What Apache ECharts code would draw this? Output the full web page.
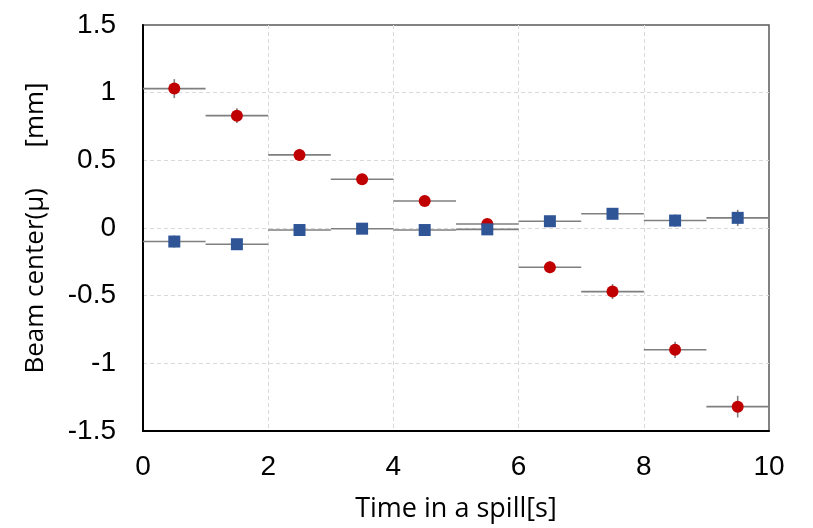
<!DOCTYPE html>
<html>
<head>
<meta charset="utf-8">
<script src="https://cdn.jsdelivr.net/npm/echarts@6/dist/echarts.min.js"></script>
<style>
  html, body { margin: 0; padding: 0; background: #ffffff; }
  #chart { width: 813px; height: 528px; }
</style>
</head>
<body>
<div id="chart"></div>
<script>
// Time bins: centre of each 1-second slice of the spill
const binCenters = [0.5, 1.5, 2.5, 3.5, 4.5, 5.5, 6.5, 7.5, 8.5, 9.5];
const binHalfWidth = 0.5;

// Red circles: beam centre and its uncertainty
const redCenter = [1.03, 0.83, 0.54, 0.36, 0.20, 0.03, -0.29, -0.47, -0.90, -1.32];
const redError  = [0.07, 0.055, 0.045, 0.04, 0.04, 0.04, 0.045, 0.055, 0.06, 0.08];

// Blue squares: beam centre and its uncertainty
const blueCenter = [-0.10, -0.12, -0.015, -0.005, -0.015, -0.01, 0.05, 0.105, 0.055, 0.075];
const blueError  = [0.045, 0.04, 0.035, 0.035, 0.035, 0.035, 0.04, 0.04, 0.045, 0.06];

const xTicks = { min: 0, max: 10, interval: 2 };
const yTicks = { min: -1.5, max: 1.5, interval: 0.5 };

const pairs = (xs, ys) => xs.map((x, i) => [x, ys[i]]);
const triples = (xs, ys, es) => xs.map((x, i) => [x, ys[i], es[i]]);

// Error bars: horizontal span of the time bin plus vertical uncertainty
function renderErrorBar(params, api) {
  const x = api.value(0), y = api.value(1), e = api.value(2);
  const left = api.coord([x - binHalfWidth, y]);
  const right = api.coord([x + binHalfWidth, y]);
  const low = api.coord([x, y - e]);
  const high = api.coord([x, y + e]);
  const style = { stroke: '#7f7f7f', lineWidth: 1.6 };
  return {
    type: 'group',
    children: [
      { type: 'line', shape: { x1: left[0], y1: left[1], x2: right[0], y2: right[1] }, style },
      { type: 'line', shape: { x1: low[0], y1: low[1], x2: high[0], y2: high[1] }, style }
    ]
  };
}

const gridLines = {
  show: true,
  showMinLine: false,
  showMaxLine: false,
  lineStyle: { color: '#d9d9d9', type: [4, 3], width: 1 }
};

const chart = echarts.init(document.getElementById('chart'), null, { renderer: 'canvas' });

chart.setOption({
  animation: false,
  backgroundColor: '#ffffff',
  grid: {
    left: 143, right: 44, top: 25, bottom: 95,
    show: true, borderColor: '#595959', borderWidth: 1.5
  },
  xAxis: {
    type: 'value',
    min: xTicks.min, max: xTicks.max, interval: xTicks.interval,
    name: 'Time in a spill[s]',
    nameLocation: 'middle',
    nameGap: 65,
    nameTextStyle: { fontFamily: 'Open Sans', fontSize: 27, color: '#000000' },
    axisLine: { show: true, onZero: false, lineStyle: { color: '#000000', width: 2 } },
    axisTick: { show: false },
    axisLabel: { fontFamily: 'Liberation Sans', fontSize: 28, color: '#000000', margin: 22 },
    splitLine: gridLines
  },
  yAxis: {
    type: 'value',
    min: yTicks.min, max: yTicks.max, interval: yTicks.interval,
    name: 'Beam center(μ)      [mm]',
    nameLocation: 'middle',
    nameRotate: 90,
    nameGap: 94,
    nameTextStyle: { fontFamily: 'Open Sans', fontSize: 26, color: '#000000' },
    axisLine: { show: true, onZero: false, lineStyle: { color: '#000000', width: 2 } },
    axisTick: { show: false },
    axisLabel: { fontFamily: 'Liberation Sans', fontSize: 28, color: '#000000', margin: 27 },
    splitLine: gridLines
  },
  series: [
    {
      type: 'custom',
      renderItem: renderErrorBar,
      data: triples(binCenters, redCenter, redError),
      z: 1,
      silent: true
    },
    {
      type: 'custom',
      renderItem: renderErrorBar,
      data: triples(binCenters, blueCenter, blueError),
      z: 1,
      silent: true
    },
    {
      type: 'scatter',
      symbol: 'circle',
      symbolSize: 12,
      itemStyle: { color: '#c00000', opacity: 1 },
      data: pairs(binCenters, redCenter),
      z: 3
    },
    {
      type: 'scatter',
      symbol: 'rect',
      symbolSize: 12,
      itemStyle: { color: '#2f5597', opacity: 1 },
      data: pairs(binCenters, blueCenter),
      z: 4
    }
  ]
});
</script>
</body>
</html>
